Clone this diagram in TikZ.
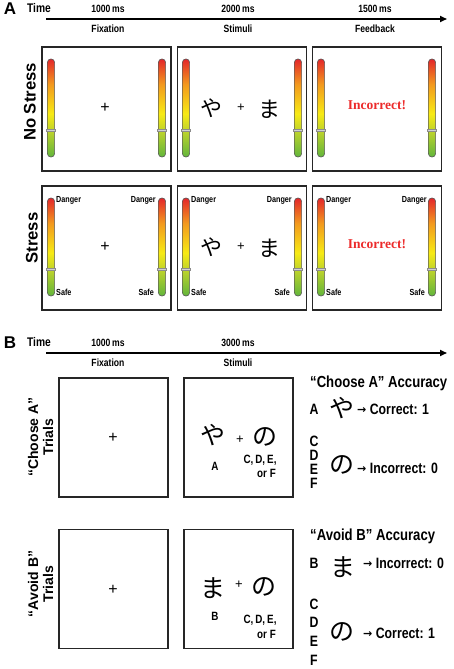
\documentclass[tikz,border=0pt]{standalone}
\usepackage{fontspec}
\setmainfont{Liberation Sans}
\newfontfamily\nf[FakeStretch=0.82]{Liberation Sans}
\newfontfamily\jp{Noto Sans CJK JP}
\newfontfamily\tnr{Liberation Serif}
\newfontfamily\dv{DejaVu Sans}
\usetikzlibrary{arrows.meta}
\definecolor{mred}{HTML}{E3262A}
\definecolor{mor}{HTML}{F39A1E}
\definecolor{myel}{HTML}{F7EA14}
\definecolor{mygr}{HTML}{C3D52A}
\definecolor{mgreen}{HTML}{62B53C}
\definecolor{incred}{HTML}{EC2A2A}
\pgfdeclareverticalshading{meter}{100bp}{color(0bp)=(mgreen); color(25bp)=(mgreen); color(39bp)=(mygr); color(47bp)=(myel); color(62bp)=(mor); color(75bp)=(mred); color(100bp)=(mred)}
\newcommand\meterat[2]{%
 \path[draw=black!65, line width=0.6pt, rounded corners=3.4pt, shading=meter, shade] (#1-3.6,#2) rectangle (#1+3.6,#2+98);
 \path[draw=gray!90, fill=gray!35, line width=0.3pt] (#1-4.6,#2+70.3) rectangle (#1+4.6,#2+71.9);}
\tikzset{
 lab/.style={font=\nf\bfseries\fontsize{10.5}{12}\selectfont, inner sep=0pt},
 tlab/.style={font=\nf\bfseries\fontsize{12.5}{14}\selectfont, inner sep=0pt},
 panel/.style={font=\bfseries\fontsize{17}{18}\selectfont, inner sep=0pt},
 cond/.style={font=\bfseries\fontsize{16.7}{18}\selectfont, inner sep=0pt, rotate=90},
 trial/.style={font=\bfseries\fontsize{14}{15}\selectfont, inner sep=0pt, rotate=90, align=center},
 boxA/.style={draw=black!85, line width=1.5pt, minimum width=129pt, minimum height=124pt, inner sep=0pt},
 boxB/.style={draw=black!85, line width=1.4pt, minimum width=109pt, minimum height=119pt, inner sep=0pt},
 tarrow/.style={line width=1.6pt, -{Triangle[length=7pt,width=6pt]}},
 fix/.style={font=\fontsize{16}{16}\selectfont, inner sep=0pt},
 sfix/.style={font=\fontsize{13}{13}\selectfont, inner sep=0pt},
 kanaA/.style={font=\jp\fontsize{22}{22}\selectfont, inner sep=0pt},
 kanaB/.style={font=\jp\fontsize{25}{25}\selectfont, inner sep=0pt},
 kanaC/.style={font=\jp\fontsize{25}{25}\selectfont, inner sep=0pt},
 dg/.style={font=\nf\bfseries\fontsize{8.8}{9}\selectfont, inner sep=0pt},
 inc/.style={font=\tnr\bfseries\fontsize{13.5}{14}\selectfont, text=incred, inner sep=0pt},
 small/.style={font=\nf\bfseries\fontsize{12}{13}\selectfont, inner sep=0pt},
 acc/.style={font=\nf\bfseries\fontsize{16}{18}\selectfont, inner sep=0pt, anchor=west},
 let/.style={font=\nf\bfseries\fontsize{15}{16}\selectfont, inner sep=0pt},
 res/.style={font=\nf\bfseries\fontsize{15}{16}\selectfont, inner sep=0pt, anchor=west},
}
\newcommand\rarr{{\dv\fontsize{11}{11}\selectfont\raisebox{0.5pt}{→}}}
\begin{document}
\begin{tikzpicture}[x=1pt,y=-1pt]
\useasboundingbox (0,0) rectangle (454,669);
% ---------- Panel A ----------
\node[panel] (pA) at (10,9) {A};
\node[tlab] (timeA) at (39,8) {Time};
\coordinate (aS) at (46,19);
\coordinate (aE) at (447,19);
\draw[tarrow] (aS) -- (aE);
\node[lab] (dA1) at (108,9) {1000\,ms};
\node[lab] (dA2) at (238,9) {2000\,ms};
\node[lab] (dA3) at (375,9) {1500\,ms};
\node[lab] (fA1) at (108,29) {Fixation};
\node[lab] (fA2) at (238,29) {Stimuli};
\node[lab] (fA3) at (375,29) {Feedback};

\node[cond] (ns) at (30,102) {No Stress};
\node[cond] (st) at (32,238) {Stress};

\node[boxA] (b11) at (106.5,109) {};
\node[boxA] (b12) at (242,109) {};
\node[boxA] (b13) at (377,109) {};
\node[boxA] (b21) at (106.5,248) {};
\node[boxA] (b22) at (242,248) {};
\node[boxA] (b23) at (377,248) {};

\foreach \yy in {59,198}{
 \meterat{51}{\yy}
 \meterat{162}{\yy}
 \meterat{186}{\yy}
 \meterat{298}{\yy}
 \meterat{321}{\yy}
 \meterat{432}{\yy}
}

\node[fix] (c11) at (105,108) {+};
\node[kanaA] (k11) at (211,108) {や};
\node[sfix] (c12) at (241,108) {+};
\node[kanaA] (k12) at (269,109) {ま};
\node[inc] (i13) at (377,105) {Incorrect!};

\node[fix] (c21) at (105,247) {+};
\node[kanaA] (k21) at (211,247) {や};
\node[sfix] (c22) at (241,247) {+};
\node[kanaA] (k22) at (269,248) {ま};
\node[inc] (i23) at (377,244) {Incorrect!};

\node[dg, anchor=west] (d1) at (56,200) {Danger};
\node[dg, anchor=west] (s1) at (56,292) {Safe};
\node[dg, anchor=east] (d2) at (156,200) {Danger};
\node[dg, anchor=east] (s2) at (154,292) {Safe};
\node[dg, anchor=west] (d3) at (191,200) {Danger};
\node[dg, anchor=west] (s3) at (191,292) {Safe};
\node[dg, anchor=east] (d4) at (292,200) {Danger};
\node[dg, anchor=east] (s4) at (290,292) {Safe};
\node[dg, anchor=west] (d5) at (326,200) {Danger};
\node[dg, anchor=west] (s5) at (326,292) {Safe};
\node[dg, anchor=east] (d6) at (427,200) {Danger};
\node[dg, anchor=east] (s6) at (425,292) {Safe};

% ---------- Panel B ----------
\node[panel] (pB) at (10,343) {B};
\node[tlab] (timeB) at (39,342) {Time};
\coordinate (bS) at (46,353);
\coordinate (bE) at (447,353);
\draw[tarrow] (bS) -- (bE);
\node[lab] (dB1) at (108,343) {1000\,ms};
\node[lab] (dB2) at (238,343) {3000\,ms};
\node[lab] (fB1) at (108,363) {Fixation};
\node[lab] (fB2) at (238,363) {Stimuli};

\node[trial] (tr1) at (40.5,437) {“Choose A”\\Trials};
\node[trial] (tr2) at (40.5,584) {“Avoid B”\\Trials};

\node[boxB] (q11) at (113.5,437.5) {};
\node[boxB] (q12) at (238.5,437.5) {};
\node[boxB] (q21) at (113.5,589) {};
\node[boxB] (q22) at (238.5,589) {};

\node[fix] (e11) at (113,438) {+};
\node[kanaB] (m11) at (213,435) {や};
\node[small] (l11) at (215,466) {A};
\node[sfix] (e12) at (240,440) {+};
\node[kanaB] (m12) at (265,437) {の};
\node[small] (l12) at (260,460) {C,\,D,\,E,};
\node[small, anchor=east] (l13) at (276,473) {or F};

\node[fix] (e21) at (113,590) {+};
\node[kanaB] (m21) at (213,588) {ま};
\node[small] (l21) at (215,616) {B};
\node[sfix] (e22) at (239,585) {+};
\node[kanaB] (m22) at (264,587) {の};
\node[small] (l22) at (260,620) {C,\,D,\,E,};
\node[small, anchor=east] (l23) at (276,634) {or F};

% right side: Choose A
\node[acc] (ca) at (310,383) {“Choose A” Accuracy};
\node[let] (rA) at (314,409) {A};
\node[kanaC] (rk1) at (342,408) {や};
\node[res] (rc1) at (357,409) {\rarr\ Correct: 1};
\node[let] (rC1) at (314,441) {C};
\node[let] (rD1) at (314,455) {D};
\node[let] (rE1) at (314,469) {E};
\node[let] (rF1) at (314,483) {F};
\node[kanaC] (rk2) at (342,465) {の};
\node[res] (ri1) at (357,468) {\rarr\ Incorrect: 0};

% right side: Avoid B
\node[acc] (ab) at (310,536) {“Avoid B” Accuracy};
\node[let] (rB) at (314,563) {B};
\node[kanaC] (rk3) at (343,567) {ま};
\node[res] (ri2) at (363,563) {\rarr\ Incorrect: 0};
\node[let] (rC2) at (314,604) {C};
\node[let] (rD2) at (314,622) {D};
\node[let] (rE2) at (314,641) {E};
\node[let] (rF2) at (314,660) {F};
\node[kanaC] (rk4) at (342,632) {の};
\node[res] (rc2) at (363,633) {\rarr\ Correct: 1};
\end{tikzpicture}
\end{document}
